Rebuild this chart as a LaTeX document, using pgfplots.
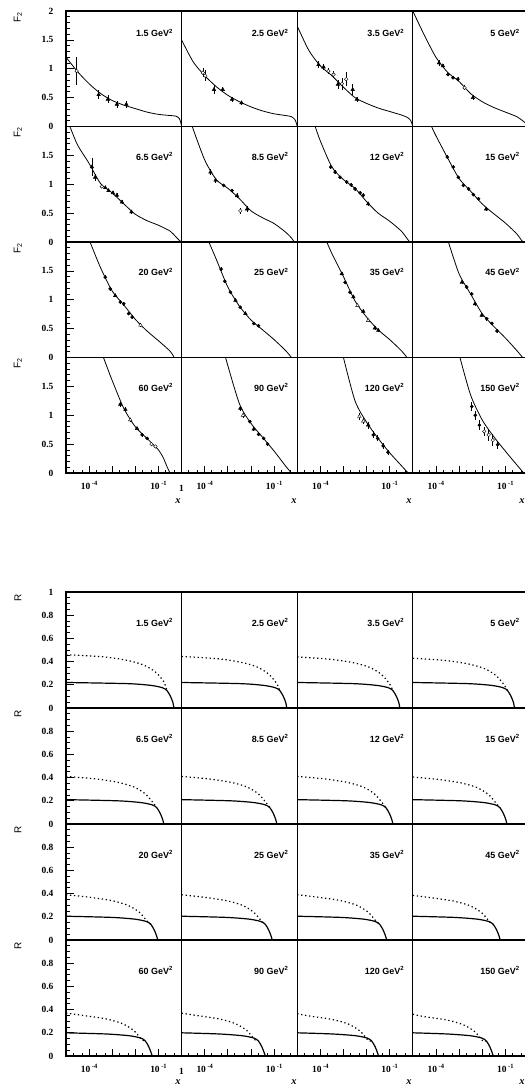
\documentclass[border=0pt]{standalone}
\usepackage{fontspec}
\setmainfont{Liberation Serif}
\newfontfamily\lsans{Liberation Sans}
\usepackage{pgfplots}
\pgfplotsset{compat=1.18}
\newcommand\xl[1]{10\,\raisebox{3.8bp}{\fontsize{6.5}{6.5}\selectfont -#1}}
\newcommand\gev[1]{#1 GeV\textsuperscript{2}}
\tikzset{lab/.style={anchor=east, font=\lsans\bfseries\fontsize{9}{9}\selectfont}}
\pgfplotsset{
 panel/.style={scale only axis, width=115.6bp, anchor=north west, xmin=-5, xmax=0,
   axis line style={line width=1.3bp},
   xtick=\empty, ytick=\empty, tick align=inside,
   major tick length=7.5bp, minor tick length=3.5bp,
   every tick/.style={black, line width=0.7bp},
   ticklabel style={font=\fontsize{9.5}{10}\selectfont\bfseries},
   yticklabel style={xshift=-9bp}, xticklabel style={yshift=-5bp},
   xtick pos=left, ytick pos=left},
 f2/.style={panel, height=115.5bp, ymin=0, ymax=2},
 rr/.style={panel, height=116bp, ymin=0, ymax=1},
 fl/.style={ytick={0,0.5,1,1.5}, yticklabels={0,0.5,1,1.5}, minor ytick={0.1,0.2,0.3,0.4,0.6,0.7,0.8,0.9,1.1,1.2,1.3,1.4,1.6,1.7,1.8,1.9}},
 flt/.style={ytick={0,0.5,1,1.5,2}, yticklabels={0,0.5,1,1.5,2}, minor ytick={0.1,0.2,0.3,0.4,0.6,0.7,0.8,0.9,1.1,1.2,1.3,1.4,1.6,1.7,1.8,1.9}},
 rl/.style={ytick={0,0.2,0.4,0.6,0.8}, yticklabels={0,0.2,0.4,0.6,0.8}, minor ytick={0.05,0.1,0.15,0.25,0.3,0.35,0.45,0.5,0.55,0.65,0.7,0.75,0.85,0.9,0.95}},
 rlt/.style={ytick={0,0.2,0.4,0.6,0.8,1}, yticklabels={0,0.2,0.4,0.6,0.8,1}, minor ytick={0.05,0.1,0.15,0.25,0.3,0.35,0.45,0.5,0.55,0.65,0.7,0.75,0.85,0.9,0.95}},
 xb/.style={xtick={-5,-4,-3,-2,-1,0}, xticklabels={,\xl{4},,,\xl{1},}, minor xtick={-4.699,-4.301,-3.699,-3.301,-2.699,-2.301,-1.699,-1.301,-0.699,-0.301}},
 curve/.style={black, line width=0.8bp, smooth, tension=0.45, mark=none},
 rcurve/.style={black, line width=1.2bp, smooth, tension=0.45, mark=none},
 dotc/.style={black, line width=1.2bp, dash pattern=on 1.3bp off 2.7bp, smooth, tension=0.45, mark=none},
 ebar/.style={only marks, black, error bars/.cd, y dir=both, y explicit, error mark=none, error bar style={line width=0.6bp}},
 tri/.style={mark=triangle*, mark size=2.1bp, ebar},
 otri/.style={mark=triangle*, mark size=2.1bp, mark options={fill=white}, ebar},
 dot/.style={mark=*, mark size=1.6bp, ebar},
 ocir/.style={mark=*, mark size=1.8bp, mark options={fill=white}, ebar},
}
\begin{document}
\begin{tikzpicture}
\useasboundingbox (0,0) rectangle (525bp,-1087bp);
% ================= F2 grid =================
% Row 1
\begin{axis}[f2, flt, at={(66bp,-11bp)}]
\addplot[curve] coordinates {(-5,1.2)(-4.5,0.95)(-4,0.74)(-3.5,0.57)(-3,0.45)(-2.5,0.37)(-2,0.31)(-1.5,0.25)(-1,0.21)(-0.5,0.19)(-0.25,0.18)(-0.1,0.14)(-0.03,0.06)(0,0)};
\addplot[ocir] coordinates {(-4.54,0.96) +- (0,0.25)};
\addplot[tri] coordinates {(-3.59,0.55) +- (0,0.08) (-3.19,0.47) +- (0,0.07) (-2.8,0.385) +- (0,0.06) (-2.39,0.385) +- (0,0.06)};
\node[lab] at (rel axis cs:0.955,0.81) {\gev{1.5}};
\end{axis}
\begin{axis}[f2, at={(181.6bp,-11bp)}]
\addplot[curve] coordinates {(-5,1.5)(-4.5,1.12)(-4,0.88)(-3.5,0.69)(-3,0.54)(-2.5,0.43)(-2,0.34)(-1.5,0.27)(-1,0.22)(-0.5,0.19)(-0.25,0.17)(-0.1,0.12)(-0.03,0.05)(0,0)};
\addplot[ocir] coordinates {(-4.08,0.93) +- (0,0.08) (-3.98,0.88) +- (0,0.1)};
\addplot[tri] coordinates {(-3.6,0.64) +- (0,0.08) (-3.22,0.64) +- (0,0.05) (-2.82,0.47) +- (0,0.04) (-2.41,0.41) +- (0,0.03)};
\node[lab] at (rel axis cs:0.955,0.81) {\gev{2.5}};
\end{axis}
\begin{axis}[f2, at={(297.2bp,-11bp)}]
\addplot[curve] coordinates {(-5,1.74)(-4.5,1.32)(-4,1.05)(-3.5,0.88)(-3,0.68)(-2.5,0.5)(-2,0.4)(-1.5,0.32)(-1,0.26)(-0.5,0.2)(-0.25,0.16)(-0.1,0.11)(-0.03,0.04)(0,0)};
\addplot[tri] coordinates {(-4.08,1.07) +- (0,0.06) (-3.86,1.03) +- (0,0.05) (-3.24,0.73) +- (0,0.08) (-2.6,0.64) +- (0,0.1) (-2.42,0.47) +- (0,0.04)};
\addplot[ocir] coordinates {(-3.65,0.96) +- (0,0.05) (-3.43,0.9) +- (0,0.06) (-3.07,0.74) +- (0,0.1) (-2.88,0.82) +- (0,0.12)};
\node[lab] at (rel axis cs:0.955,0.81) {\gev{3.5}};
\end{axis}
\begin{axis}[f2, at={(412.8bp,-11bp)}]
\addplot[curve] coordinates {(-5,2.0)(-4.5,1.58)(-4,1.2)(-3.5,0.94)(-3,0.78)(-2.5,0.57)(-2,0.43)(-1.5,0.33)(-1,0.25)(-0.5,0.17)(-0.25,0.1)(-0.1,0.05)(0,0)};
\addplot[tri] coordinates {(-3.87,1.1) +- (0,0.05) (-3.7,1.05) +- (0,0.04) (-2.4,0.5) +- (0,0.04)};
\addplot[dot] coordinates {(-3.48,0.9) +- (0,0.03) (-3.26,0.845) +- (0,0.03) (-3.05,0.82) +- (0,0.03)};
\addplot[ocir] coordinates {(-2.76,0.67) +- (0,0.04)};
\node[lab] at (rel axis cs:0.955,0.81) {\gev{5}};
\end{axis}
% Row 2
\begin{axis}[f2, fl, at={(66bp,-126.5bp)}]
\addplot[curve] coordinates {(-4.83,2.0)(-4.5,1.68)(-4,1.36)(-3.5,1.01)(-3,0.85)(-2.5,0.66)(-2,0.48)(-1.5,0.37)(-1,0.29)(-0.5,0.19)(-0.25,0.09)(-0.1,0.03)(0,0)};
\addplot[tri] coordinates {(-3.88,1.3) +- (0,0.15) (-3.74,1.12) +- (0,0.06) (-3.3,0.94) +- (0,0.03) (-3.16,0.89) +- (0,0.03) (-2.97,0.85) +- (0,0.03) (-2.8,0.81) +- (0,0.03) (-2.58,0.69) +- (0,0.04) (-2.17,0.52) +- (0,0.04)};
\addplot[ocir] coordinates {(-3.45,0.96) +- (0,0.03)};
\node[lab] at (rel axis cs:0.955,0.74) {\gev{6.5}};
\end{axis}
\begin{axis}[f2, at={(181.6bp,-126.5bp)}]
\addplot[curve] coordinates {(-4.54,2.0)(-4,1.42)(-3.5,1.08)(-3,0.93)(-2.5,0.75)(-2,0.54)(-1.5,0.42)(-1,0.32)(-0.5,0.17)(-0.25,0.07)(-0.12,0)};
\addplot[tri] coordinates {(-3.75,1.21) +- (0,0.05) (-3.53,1.07) +- (0,0.04) (-2.6,0.8) +- (0,0.04) (-2.17,0.57) +- (0,0.05)};
\addplot[dot] coordinates {(-3.18,0.98) +- (0,0.03) (-2.82,0.89) +- (0,0.03)};
\addplot[ocir] coordinates {(-2.46,0.54) +- (0,0.05)};
\node[lab] at (rel axis cs:0.955,0.74) {\gev{8.5}};
\end{axis}
\begin{axis}[f2, at={(297.2bp,-126.5bp)}]
\addplot[curve] coordinates {(-4.22,2.0)(-4,1.75)(-3.5,1.3)(-3,1.08)(-2.5,0.93)(-2,0.7)(-1.5,0.5)(-1,0.36)(-0.5,0.19)(-0.25,0.06)(-0.13,0)};
\addplot[dot] coordinates {(-3.55,1.3) +- (0,0.03) (-3.36,1.21) +- (0,0.03) (-3.15,1.12) +- (0,0.03) (-2.86,1.04) +- (0,0.03) (-2.67,0.99) +- (0,0.03) (-2.5,0.92) +- (0,0.03) (-2.28,0.85) +- (0,0.03) (-2.14,0.81) +- (0,0.03)};
\addplot[tri] coordinates {(-1.93,0.66) +- (0,0.03)};
\node[lab] at (rel axis cs:0.955,0.74) {\gev{12}};
\end{axis}
\begin{axis}[f2, at={(412.8bp,-126.5bp)}]
\addplot[curve] coordinates {(-4.19,2.0)(-4,1.84)(-3.5,1.46)(-3,1.1)(-2.5,0.88)(-2,0.66)(-1.5,0.49)(-1,0.33)(-0.5,0.14)(-0.3,0.03)(-0.22,0)};
\addplot[dot] coordinates {(-3.51,1.47) +- (0,0.03) (-3.25,1.3) +- (0,0.03) (-3.03,1.12) +- (0,0.03) (-2.81,0.98) +- (0,0.03) (-2.59,0.92) +- (0,0.03) (-2.38,0.82) +- (0,0.03) (-2.16,0.75) +- (0,0.03)};
\addplot[tri] coordinates {(-1.83,0.57) +- (0,0.03)};
\node[lab] at (rel axis cs:0.955,0.74) {\gev{15}};
\end{axis}
% Row 3
\begin{axis}[f2, fl, at={(66bp,-242bp)}]
\addplot[curve] coordinates {(-3.96,2.0)(-3.5,1.55)(-3,1.15)(-2.5,0.91)(-2,0.66)(-1.5,0.46)(-1,0.29)(-0.5,0.11)(-0.32,0)};
\addplot[dot] coordinates {(-3.3,1.39) +- (0,0.03) (-3.09,1.19) +- (0,0.03) (-2.65,0.96) +- (0,0.03) (-2.5,0.93) +- (0,0.03) (-2.29,0.76) +- (0,0.03) (-2.14,0.7) +- (0,0.03)};
\addplot[tri] coordinates {(-2.87,1.07) +- (0,0.03)};
\addplot[otri] coordinates {(-1.78,0.56) +- (0,0.03)};
\node[lab] at (rel axis cs:0.955,0.74) {\gev{20}};
\end{axis}
\begin{axis}[f2, at={(181.6bp,-242bp)}]
\addplot[curve] coordinates {(-3.82,2.0)(-3.5,1.7)(-3,1.22)(-2.5,0.89)(-2,0.65)(-1.5,0.48)(-1,0.31)(-0.5,0.12)(-0.25,0)};
\addplot[dot] coordinates {(-3.29,1.53) +- (0,0.03) (-3.13,1.32) +- (0,0.03) (-2.89,1.13) +- (0,0.03) (-2.46,0.87) +- (0,0.03) (-1.88,0.59) +- (0,0.03) (-1.67,0.55) +- (0,0.03)};
\addplot[tri] coordinates {(-2.67,0.99) +- (0,0.03) (-2.24,0.76) +- (0,0.03)};
\node[lab] at (rel axis cs:0.955,0.74) {\gev{25}};
\end{axis}
\begin{axis}[f2, at={(297.2bp,-242bp)}]
\addplot[curve] coordinates {(-3.72,2.0)(-3.5,1.8)(-3,1.4)(-2.5,0.98)(-2,0.7)(-1.5,0.48)(-1,0.31)(-0.5,0.12)(-0.25,0)};
\addplot[tri] coordinates {(-3.07,1.45) +- (0,0.03) (-2.57,1.05) +- (0,0.03) (-2.14,0.8) +- (0,0.03) (-1.64,0.51) +- (0,0.03) (-1.49,0.47) +- (0,0.03)};
\addplot[dot] coordinates {(-2.93,1.3) +- (0,0.03) (-2.72,1.13) +- (0,0.03)};
\addplot[otri] coordinates {(-2.39,0.9) +- (0,0.03) (-1.93,0.64) +- (0,0.03)};
\node[lab] at (rel axis cs:0.955,0.74) {\gev{35}};
\end{axis}
\begin{axis}[f2, at={(412.8bp,-242bp)}]
\addplot[curve] coordinates {(-3.46,2.0)(-3,1.45)(-2.5,1.1)(-2,0.76)(-1.5,0.54)(-1,0.34)(-0.5,0.12)(-0.25,0)};
\addplot[tri] coordinates {(-2.88,1.3) +- (0,0.03) (-2.31,0.93) +- (0,0.03) (-2.02,0.73) +- (0,0.03)};
\addplot[dot] coordinates {(-2.67,1.22) +- (0,0.03) (-2.45,1.1) +- (0,0.03) (-1.8,0.67) +- (0,0.03) (-1.58,0.59) +- (0,0.03) (-1.36,0.46) +- (0,0.03)};
\node[lab] at (rel axis cs:0.955,0.74) {\gev{45}};
\end{axis}
% Row 4
\begin{axis}[f2, fl, xb, at={(66bp,-357.5bp)}]
\addplot[curve] coordinates {(-3.38,2.0)(-3,1.6)(-2.5,1.12)(-2,0.8)(-1.5,0.6)(-1.25,0.5)(-1,0.4)(-0.8,0.27)(-0.62,0.1)(-0.5,0)};
\addplot[tri] coordinates {(-2.65,1.19) +- (0,0.04) (-2.43,1.1) +- (0,0.04) (-1.93,0.77) +- (0,0.03)};
\addplot[otri] coordinates {(-2.22,0.92) +- (0,0.03)};
\addplot[dot] coordinates {(-1.71,0.66) +- (0,0.03) (-1.49,0.6) +- (0,0.03)};
\addplot[ocir] coordinates {(-1.3,0.5) +- (0,0.03) (-1.13,0.46) +- (0,0.03)};
\node[lab] at (rel axis cs:0.955,0.74) {\gev{60}};
\end{axis}
\begin{axis}[f2, xb, at={(181.6bp,-357.5bp)}]
\addplot[curve] coordinates {(-3.1,2.0)(-2.5,1.2)(-2,0.86)(-1.5,0.62)(-1,0.38)(-0.5,0.12)(-0.25,0)};
\addplot[tri] coordinates {(-2.46,1.12) +- (0,0.04) (-1.88,0.76) +- (0,0.03)};
\addplot[otri] coordinates {(-2.34,1.0) +- (0,0.04)};
\addplot[dot] coordinates {(-2.05,0.89) +- (0,0.03) (-1.67,0.67) +- (0,0.03) (-1.45,0.6) +- (0,0.03) (-1.28,0.5) +- (0,0.03)};
\node[lab] at (rel axis cs:0.955,0.74) {\gev{90}};
\end{axis}
\begin{axis}[f2, xb, at={(297.2bp,-357.5bp)}]
\addplot[curve] coordinates {(-3.0,2.0)(-2.5,1.25)(-2,0.88)(-1.5,0.6)(-1,0.35)(-0.5,0.13)(-0.2,0)};
\addplot[otri] coordinates {(-2.31,0.98) +- (0,0.06) (-2.14,0.9) +- (0,0.06)};
\addplot[tri] coordinates {(-1.93,0.83) +- (0,0.06)};
\addplot[dot] coordinates {(-1.71,0.66) +- (0,0.06) (-1.52,0.6) +- (0,0.05) (-1.28,0.47) +- (0,0.05) (-1.07,0.36) +- (0,0.04)};
\node[lab] at (rel axis cs:0.955,0.74) {\gev{120}};
\end{axis}
\begin{axis}[f2, xb, at={(412.8bp,-357.5bp)}]
\addplot[curve] coordinates {(-2.96,2.0)(-2.5,1.35)(-2,0.92)(-1.5,0.63)(-1,0.38)(-0.5,0.14)(-0.2,0)};
\addplot[dot] coordinates {(-2.45,1.15) +- (0,0.08) (-2.3,1.0) +- (0,0.08) (-2.12,0.83) +- (0,0.08) (-1.33,0.49) +- (0,0.07)};
\addplot[ocir] coordinates {(-1.91,0.72) +- (0,0.08) (-1.72,0.66) +- (0,0.1) (-1.54,0.57) +- (0,0.1)};
\node[lab] at (rel axis cs:0.955,0.74) {\gev{150}};
\end{axis}
% ================= R grid =================
% Row 1
\begin{axis}[rr, rlt, at={(66bp,-592bp)}]
\addplot[rcurve] coordinates {(-5,0.22)(-2.33,0.21)(-1.33,0.195)(-0.83,0.175)(-0.63,0.15)(-0.48,0.1)(-0.38,0.05)(-0.33,0)};
\addplot[dotc] coordinates {(-5,0.46)(-3.33,0.44)(-2.33,0.41)(-1.63,0.37)(-1.13,0.31)(-0.78,0.23)(-0.63,0.15)};
\node[lab] at (rel axis cs:0.955,0.74) {\gev{1.5}};
\end{axis}
\begin{axis}[rr, at={(181.6bp,-592bp)}]
\addplot[rcurve] coordinates {(-5,0.22)(-2.45,0.21)(-1.45,0.195)(-0.95,0.175)(-0.75,0.15)(-0.6,0.1)(-0.5,0.05)(-0.45,0)};
\addplot[dotc] coordinates {(-5,0.445)(-3.45,0.425)(-2.45,0.395)(-1.75,0.355)(-1.25,0.295)(-0.9,0.215)(-0.75,0.15)};
\node[lab] at (rel axis cs:0.955,0.74) {\gev{2.5}};
\end{axis}
\begin{axis}[rr, at={(297.2bp,-592bp)}]
\addplot[rcurve] coordinates {(-5,0.22)(-2.56,0.21)(-1.56,0.195)(-1.06,0.175)(-0.86,0.15)(-0.71,0.1)(-0.61,0.05)(-0.56,0)};
\addplot[dotc] coordinates {(-5,0.44)(-3.56,0.42)(-2.56,0.39)(-1.86,0.35)(-1.36,0.29)(-1.01,0.21)(-0.86,0.15)};
\node[lab] at (rel axis cs:0.955,0.74) {\gev{3.5}};
\end{axis}
\begin{axis}[rr, at={(412.8bp,-592bp)}]
\addplot[rcurve] coordinates {(-5,0.22)(-2.6,0.21)(-1.6,0.195)(-1.1,0.175)(-0.9,0.15)(-0.75,0.1)(-0.65,0.05)(-0.6,0)};
\addplot[dotc] coordinates {(-5,0.43)(-3.6,0.41)(-2.6,0.38)(-1.9,0.34)(-1.4,0.28)(-1.05,0.2)(-0.9,0.15)};
\node[lab] at (rel axis cs:0.955,0.74) {\gev{5}};
\end{axis}
% Row 2
\begin{axis}[rr, rl, at={(66bp,-708bp)}]
\addplot[rcurve] coordinates {(-5,0.21)(-2.77,0.2)(-1.77,0.185)(-1.27,0.165)(-1.07,0.14)(-0.92,0.09)(-0.82,0.04)(-0.77,0)};
\addplot[dotc] coordinates {(-5,0.41)(-3.77,0.39)(-2.77,0.36)(-2.07,0.32)(-1.57,0.26)(-1.22,0.18)(-1.07,0.14)};
\node[lab] at (rel axis cs:0.955,0.74) {\gev{6.5}};
\end{axis}
\begin{axis}[rr, at={(181.6bp,-708bp)}]
\addplot[rcurve] coordinates {(-5,0.21)(-2.88,0.2)(-1.88,0.185)(-1.38,0.165)(-1.18,0.14)(-1.03,0.09)(-0.93,0.04)(-0.88,0)};
\addplot[dotc] coordinates {(-5,0.41)(-3.88,0.39)(-2.88,0.36)(-2.18,0.32)(-1.68,0.26)(-1.33,0.18)(-1.18,0.14)};
\node[lab] at (rel axis cs:0.955,0.74) {\gev{8.5}};
\end{axis}
\begin{axis}[rr, at={(297.2bp,-708bp)}]
\addplot[rcurve] coordinates {(-5,0.21)(-2.86,0.2)(-1.86,0.185)(-1.36,0.165)(-1.16,0.14)(-1.01,0.09)(-0.91,0.04)(-0.86,0)};
\addplot[dotc] coordinates {(-5,0.41)(-3.86,0.39)(-2.86,0.36)(-2.16,0.32)(-1.66,0.26)(-1.31,0.18)(-1.16,0.14)};
\node[lab] at (rel axis cs:0.955,0.74) {\gev{12}};
\end{axis}
\begin{axis}[rr, at={(412.8bp,-708bp)}]
\addplot[rcurve] coordinates {(-5,0.21)(-2.93,0.2)(-1.93,0.185)(-1.43,0.165)(-1.23,0.14)(-1.08,0.09)(-0.98,0.04)(-0.93,0)};
\addplot[dotc] coordinates {(-5,0.405)(-3.93,0.385)(-2.93,0.355)(-2.23,0.315)(-1.73,0.255)(-1.38,0.175)(-1.23,0.14)};
\node[lab] at (rel axis cs:0.955,0.74) {\gev{15}};
\end{axis}
% Row 3
\begin{axis}[rr, rl, at={(66bp,-824bp)}]
\addplot[rcurve] coordinates {(-5,0.205)(-3.03,0.195)(-2.03,0.18)(-1.53,0.16)(-1.33,0.135)(-1.18,0.085)(-1.08,0.035)(-1.03,0)};
\addplot[dotc] coordinates {(-5,0.39)(-4.03,0.37)(-3.03,0.34)(-2.33,0.3)(-1.83,0.24)(-1.48,0.16)(-1.33,0.135)};
\node[lab] at (rel axis cs:0.955,0.74) {\gev{20}};
\end{axis}
\begin{axis}[rr, at={(181.6bp,-824bp)}]
\addplot[rcurve] coordinates {(-5,0.205)(-3.08,0.195)(-2.08,0.18)(-1.58,0.16)(-1.38,0.135)(-1.23,0.085)(-1.13,0.035)(-1.08,0)};
\addplot[dotc] coordinates {(-5,0.39)(-4.08,0.37)(-3.08,0.34)(-2.38,0.3)(-1.88,0.24)(-1.53,0.16)(-1.38,0.135)};
\node[lab] at (rel axis cs:0.955,0.74) {\gev{25}};
\end{axis}
\begin{axis}[rr, at={(297.2bp,-824bp)}]
\addplot[rcurve] coordinates {(-5,0.205)(-3.13,0.195)(-2.13,0.18)(-1.63,0.16)(-1.43,0.135)(-1.28,0.085)(-1.18,0.035)(-1.13,0)};
\addplot[dotc] coordinates {(-5,0.39)(-4.13,0.37)(-3.13,0.34)(-2.43,0.3)(-1.93,0.24)(-1.58,0.16)(-1.43,0.135)};
\node[lab] at (rel axis cs:0.955,0.74) {\gev{35}};
\end{axis}
\begin{axis}[rr, at={(412.8bp,-824bp)}]
\addplot[rcurve] coordinates {(-5,0.205)(-3.22,0.195)(-2.22,0.18)(-1.72,0.16)(-1.52,0.135)(-1.37,0.085)(-1.27,0.035)(-1.22,0)};
\addplot[dotc] coordinates {(-5,0.385)(-4.22,0.365)(-3.22,0.335)(-2.52,0.295)(-2.02,0.235)(-1.67,0.155)(-1.52,0.135)};
\node[lab] at (rel axis cs:0.955,0.74) {\gev{45}};
\end{axis}
% Row 4
\begin{axis}[rr, rl, xb, at={(66bp,-940bp)}]
\addplot[rcurve] coordinates {(-5,0.2)(-3.27,0.19)(-2.27,0.175)(-1.77,0.155)(-1.57,0.13)(-1.42,0.08)(-1.32,0.03)(-1.27,0)};
\addplot[dotc] coordinates {(-5,0.37)(-4.27,0.35)(-3.27,0.32)(-2.57,0.28)(-2.07,0.22)(-1.72,0.14)(-1.57,0.13)};
\node[lab] at (rel axis cs:0.955,0.74) {\gev{60}};
\end{axis}
\begin{axis}[rr, xb, at={(181.6bp,-940bp)}]
\addplot[rcurve] coordinates {(-5,0.2)(-3.38,0.19)(-2.38,0.175)(-1.88,0.155)(-1.68,0.13)(-1.53,0.08)(-1.43,0.03)(-1.38,0)};
\addplot[dotc] coordinates {(-5,0.37)(-4.38,0.35)(-3.38,0.32)(-2.68,0.28)(-2.18,0.22)(-1.83,0.14)(-1.68,0.13)};
\node[lab] at (rel axis cs:0.955,0.74) {\gev{90}};
\end{axis}
\begin{axis}[rr, xb, at={(297.2bp,-940bp)}]
\addplot[rcurve] coordinates {(-5,0.2)(-3.48,0.19)(-2.48,0.175)(-1.98,0.155)(-1.78,0.13)(-1.63,0.08)(-1.53,0.03)(-1.48,0)};
\addplot[dotc] coordinates {(-5,0.365)(-4.48,0.345)(-3.48,0.315)(-2.78,0.275)(-2.28,0.215)(-1.93,0.135)(-1.78,0.13)};
\node[lab] at (rel axis cs:0.955,0.74) {\gev{120}};
\end{axis}
\begin{axis}[rr, xb, at={(412.8bp,-940bp)}]
\addplot[rcurve] coordinates {(-5,0.2)(-3.52,0.19)(-2.52,0.175)(-2.02,0.155)(-1.82,0.13)(-1.67,0.08)(-1.57,0.03)(-1.52,0)};
\addplot[dotc] coordinates {(-5,0.36)(-4.52,0.34)(-3.52,0.31)(-2.82,0.27)(-2.32,0.21)(-1.97,0.13)(-1.82,0.13)};
\node[lab] at (rel axis cs:0.955,0.74) {\gev{150}};
\end{axis}
% ================= axis labels =================
\foreach \yy in {17,132.5,248,363.5} {
  \node[rotate=90, font=\lsans\fontsize{10}{10}\selectfont] at (18bp,-\yy bp) {F\textsubscript{2}};
}
\foreach \yy in {598,714,830,946} {
  \node[rotate=90, font=\lsans\fontsize{10}{10}\selectfont] at (18bp,-\yy bp) {R};
}
\node[font=\fontsize{9.5}{10}\selectfont\bfseries] at (181.6bp,-488bp) {1};
\node[font=\fontsize{9.5}{10}\selectfont\bfseries] at (181.6bp,-1071bp) {1};
\foreach \xx in {178,294,409,522} {
  \node[font=\bfseries\itshape\fontsize{10.5}{10.5}\selectfont] at (\xx bp,-501bp) {x};
  \node[font=\bfseries\itshape\fontsize{10.5}{10.5}\selectfont] at (\xx bp,-1082bp) {x};
}
\end{tikzpicture}
\end{document}
